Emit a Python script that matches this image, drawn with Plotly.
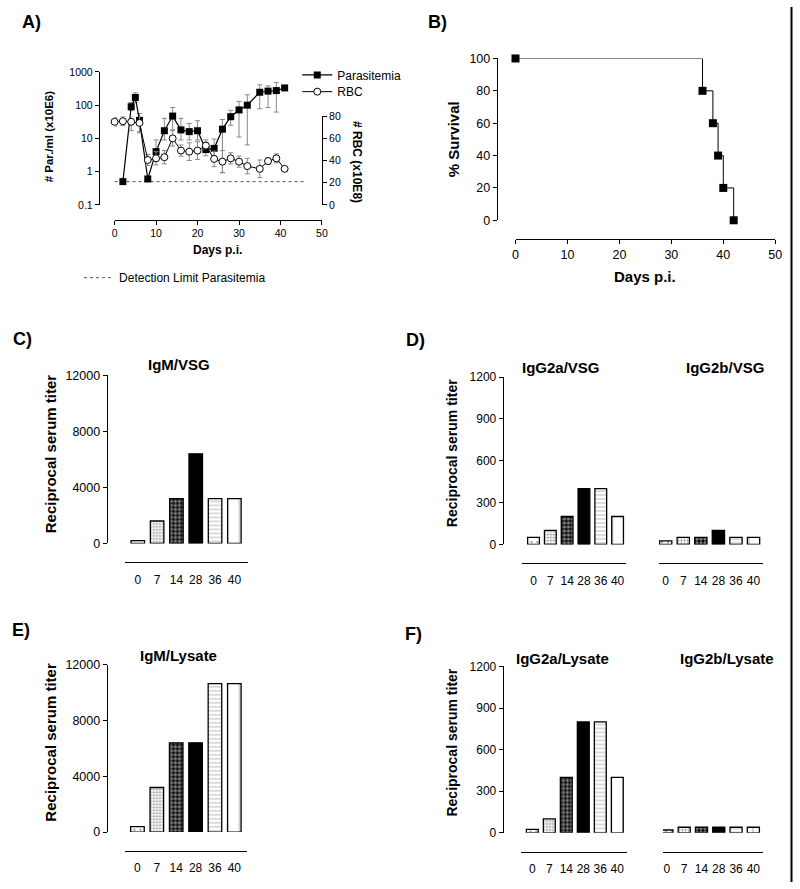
import plotly.graph_objects as go

# ---------------- data ----------------
# Panel A: parasitemia (x10E6 / ml) and RBC (x10E8)
para_days = [2, 4, 5, 6, 8, 10, 12, 14, 16, 18, 20, 22, 24, 26, 28, 30, 32, 35, 37, 39, 41]
para_vals = [0.5, 90, 170, 35, 0.6, 4, 17, 47, 18, 16, 17, 4.6, 5, 19, 45, 72, 100, 245, 265, 275, 330]
para_upper = [0.5, 120, 235, 56, 0.6, 9, 40, 85, 40, 28, 34, 9, 9.6, 37, 70, 130, 205, 410, 380, 480, 330]
para_lower = [0.5, 70, 120, 16, 0.6, 2.3, 9, 18, 9, 9, 9, 3, 2.9, 0.93, 25, 11, 6.4, 78, 85, 62, 330]

rbc_days = [0, 2, 4, 6, 8, 10, 12, 14, 16, 18, 20, 22, 24, 26, 28, 30, 32, 35, 37, 39, 41]
rbc_vals = [75, 75.5, 75, 74, 40.5, 42, 43, 60, 49, 48, 49, 53.5, 41.5, 39, 42, 39, 35, 32.5, 39.5, 42, 32.5]
rbc_err = [4, 4, 8, 9, 5, 6, 6, 7, 5, 8, 8, 3, 7, 10, 5, 5, 7, 8, 3, 4, 0]

detect_days = [0, 46]
detect_limit = [0.5, 0.5]

# Panel B: survival
surv_days = [0, 36, 38, 39, 40, 42]
surv_pct = [100, 80, 60, 40, 20, 0]

# Panels C-F: reciprocal serum titers
day_labels = ["0", "7", "14", "28", "36", "40"]
igm_vsg = [200, 1600, 3200, 6400, 3200, 3200]
igg2a_vsg = [50, 100, 200, 400, 400, 200]
igg2b_vsg = [25, 50, 50, 100, 50, 50]
igm_lys = [400, 3200, 6400, 6400, 10650, 10650]
igg2a_lys = [25, 100, 400, 800, 800, 400]
igg2b_lys = [20, 40, 40, 40, 40, 40]

# ---------------- helpers ----------------
W, H = 800, 889
FONT = "Liberation Sans, Arial, sans-serif"


def px(x):
    return x / W


def py(y):
    return 1 - y / H


def dx(a, b):
    return [a / W, b / W]


def dy(top, bottom):
    return [1 - bottom / H, 1 - top / H]


def axstyle(size=12, **kw):
    d = dict(showline=True, linecolor="black", linewidth=1, ticks="outside", ticklen=4,
             tickwidth=1, tickcolor="black", showgrid=False, zeroline=False,
             tickfont=dict(size=size, color="black", family=FONT))
    d.update(kw)
    return d


def cat_xaxis(dom, rng, pos, size=12):
    return axstyle(size, type="category", domain=dx(*dom), range=rng, anchor="free",
                   position=py(pos), ticks="outside", ticklen=6, tickcolor="rgba(0,0,0,0)")


# fill style per time point (0, 7, 14, 28, 36, 40)
bar_shapes = [".", "+", ".", "", "-", "|"]
bar_size = [6, 3, 4, 8, 4, 12]
bar_sol = [0.12, 0.4, 0.55, 0.3, 0.2, 0.08]
bar_color = ["white", "white", "black", "black", "white", "white"]
bar_fg = ["black", "black", "white", "black", "black", "black"]


def bars(vals, xa, ya):
    return go.Bar(x=day_labels, y=vals, xaxis=xa, yaxis=ya, width=0.7, showlegend=False,
                  marker=dict(color=bar_color, line=dict(color="black", width=1.3),
                              pattern=dict(shape=bar_shapes, fgcolor=bar_fg,
                                           size=bar_size, solidity=bar_sol, fillmode="overlay")))


fig = go.Figure()

# ---------------- Panel A ----------------
fig.add_trace(go.Scatter(
    x=detect_days, y=detect_limit, mode="lines", xaxis="x", yaxis="y",
    line=dict(color="#555", width=1, dash="dot"), name="Detection Limit Parasitemia",
    legend="legend2", hoverinfo="skip"))
fig.add_trace(go.Scatter(
    x=para_days, y=para_vals, mode="lines+markers", xaxis="x", yaxis="y", name="Parasitemia",
    line=dict(color="black", width=1.2), marker=dict(symbol="square", size=7, color="black"),
    error_y=dict(type="data", symmetric=False,
                 array=[u - v for u, v in zip(para_upper, para_vals)],
                 arrayminus=[v - l for v, l in zip(para_vals, para_lower)],
                 color="#888", thickness=1, width=2.5),
    cliponaxis=False))
fig.add_trace(go.Scatter(
    x=rbc_days, y=rbc_vals, mode="lines+markers", xaxis="x", yaxis="y2", name="RBC",
    legend="legend3",
    line=dict(color="black", width=1), marker=dict(symbol="circle", size=7, color="white",
                                                    line=dict(color="black", width=1)),
    error_y=dict(type="data", array=rbc_err, color="#888", thickness=1, width=2.5),
    cliponaxis=False))

# ---------------- Panel B ----------------
fig.add_trace(go.Scatter(
    x=surv_days, y=surv_pct, mode="lines+markers", xaxis="x2", yaxis="y3", showlegend=False,
    line=dict(color="black", width=1, shape="hv"),
    marker=dict(symbol="square", size=8, color="black"), cliponaxis=False))

# ---------------- Panels C-F ----------------
fig.add_trace(bars(igm_vsg, "x3", "y4"))
fig.add_trace(bars(igg2a_vsg, "x4", "y5"))
fig.add_trace(bars(igg2b_vsg, "x5", "y6"))
fig.add_trace(bars(igm_lys, "x6", "y7"))
fig.add_trace(bars(igg2a_lys, "x7", "y8"))
fig.add_trace(bars(igg2b_lys, "x8", "y9"))

big_ticks = [0, 4000, 8000, 12000]
big_text = ["0", "4000", "8000", "12000"]

leg = dict(xanchor="left", yanchor="middle", bgcolor="rgba(0,0,0,0)",
           font=dict(size=12, family=FONT), itemwidth=30, borderwidth=0)

layout = dict(
    width=W, height=H, margin=dict(l=0, r=0, t=0, b=0),
    paper_bgcolor="white", plot_bgcolor="rgba(0,0,0,0)",
    font=dict(family=FONT, color="black"),
    legend=dict(leg, x=px(298), y=py(69)),
    legend3=dict(leg, x=px(298), y=py(86)),
    legend2=dict(leg, x=px(77), y=py(275)),
    # A
    xaxis=axstyle(10.5, domain=dx(113, 323), range=[0, 50], anchor="free", position=py(216),
                  tickvals=[0, 10, 20, 30, 40, 50]),
    yaxis=axstyle(10.5, type="log", domain=dy(66, 201), range=[-1, 3], anchor="free",
                  position=px(97), tickvals=[0.1, 1, 10, 100, 1000],
                  ticktext=["0.1", "1", "10", "100", "1000"]),
    yaxis2=axstyle(10.5, domain=dy(111, 201), range=[0, 80], anchor="free", position=px(323),
                   side="right", tickvals=[0, 20, 40, 60, 80]),
    # B
    xaxis2=axstyle(12.5, domain=dx(519, 782), range=[0, 50], anchor="free", position=py(236),
                   tickvals=[0, 10, 20, 30, 40, 50]),
    yaxis3=axstyle(12.5, domain=dy(52.3, 216.7), range=[0, 100], anchor="free", position=px(500),
                   tickvals=[0, 20, 40, 60, 80, 100]),
    # C
    xaxis3=cat_xaxis((124, 248), [-0.64, 5.7], 564.3),
    yaxis4=axstyle(12.5, domain=dy(374.3, 545), range=[0, 12000], anchor="free", position=px(105),
                   tickvals=big_ticks, ticktext=big_text),
    # D
    xaxis4=cat_xaxis((526, 630.7), [-0.66, 5.49], 565),
    yaxis5=axstyle(12, domain=dy(376, 546), range=[0, 1200], anchor="free", position=px(506),
                   tickvals=[0, 300, 600, 900, 1200]),
    xaxis5=cat_xaxis((664.3, 769.3), [-0.38, 5.52], 565),
    yaxis6=dict(domain=dy(376, 546), range=[0, 1200], anchor="x5", visible=False),
    # E
    xaxis6=cat_xaxis((124, 247), [-0.62, 5.65], 857.3),
    yaxis7=axstyle(12.5, domain=dy(668.3, 838.3), range=[0, 12000], anchor="free", position=px(105),
                   tickvals=big_ticks, ticktext=big_text),
    # F
    xaxis7=cat_xaxis((525, 631.7), [-0.64, 5.56], 858.3),
    yaxis8=axstyle(12, domain=dy(670, 839), range=[0, 1200], anchor="free", position=px(506),
                   tickvals=[0, 300, 600, 900, 1200]),
    xaxis8=cat_xaxis((668.3, 770), [-0.23, 5.58], 858.3),
    yaxis9=dict(domain=dy(670, 839), range=[0, 1200], anchor="x8", visible=False),
)
fig.update_layout(**layout)

# ---------------- text ----------------
def ann(text, x, y, size, bold=True, angle=0):
    fig.add_annotation(text=f"<b>{text}</b>" if bold else text, x=px(x), y=py(y),
                       xref="paper", yref="paper", showarrow=False, textangle=angle,
                       xanchor="center", yanchor="middle",
                       font=dict(size=size, family=FONT, color="black"))


for lab, x, y in [("A)", 29, 15), ("B)", 440, 15), ("C)", 20, 337),
                  ("D)", 418, 338), ("E)", 18, 633), ("F)", 416, 637)]:
    ann(lab, x, y, 18)

ann("# Par./ml (x10E6)", 47, 131, 11.5, angle=-90)
ann("# RBC (x10E8)", 359, 157, 12, angle=90)
ann("Days p.i.", 217, 247, 12)
ann("% Survival", 457, 134, 15, angle=-90)
ann("Days p.i.", 650, 274, 15)

ann("IgM/VSG", 178, 363, 15)
ann("IgG2a/VSG", 565, 366, 15)
ann("IgG2b/VSG", 731, 366, 15)
ann("IgM/Lysate", 178, 659, 15)
ann("IgG2a/Lysate", 567, 662, 15)
ann("IgG2b/Lysate", 733, 662, 15)

ann("Reciprocal serum titer", 48, 454, 15, angle=-90)
ann("Reciprocal serum titer", 455, 453, 14, angle=-90)
ann("Reciprocal serum titer", 48, 747, 15, angle=-90)
ann("Reciprocal serum titer", 455, 747, 14, angle=-90)

# right-hand border line of the scanned page
fig.add_shape(type="line", xref="paper", yref="paper", x0=px(798.5), x1=px(798.5), y0=0, y1=1,
              line=dict(color="black", width=2))

post = "document.body.style.margin='0';document.body.style.overflow='hidden';"
fig.write_html("out.html", config={"displayModeBar": False}, post_script=post)
